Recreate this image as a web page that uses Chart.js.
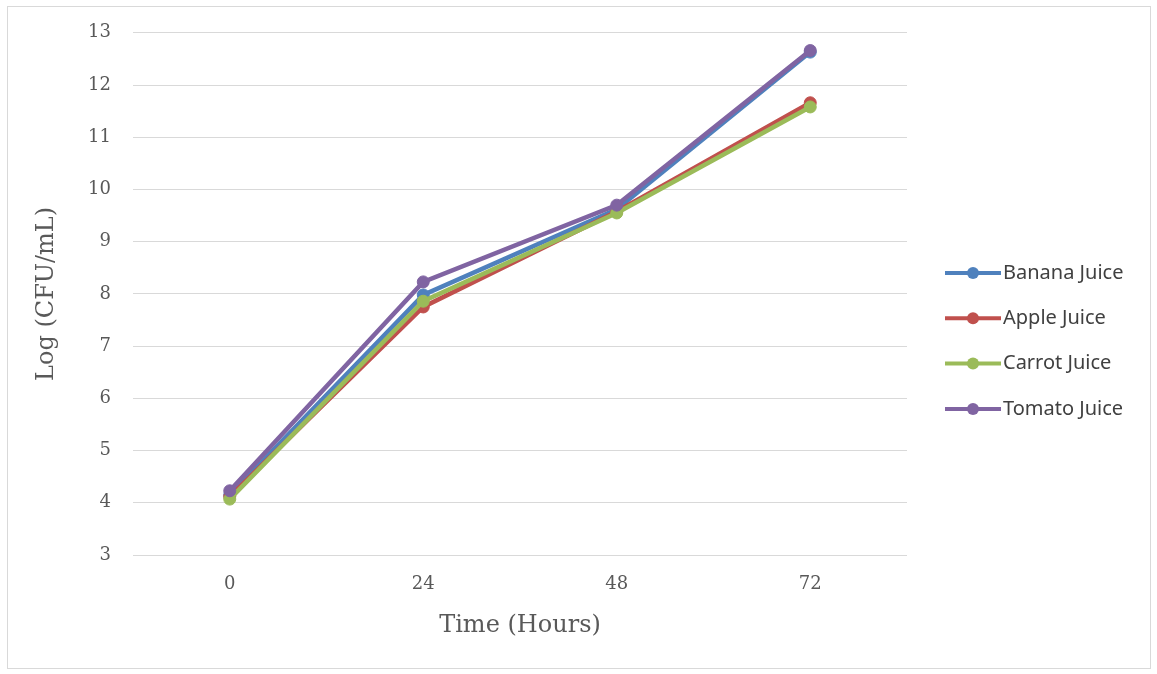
<!DOCTYPE html>
<html>
<head>
<meta charset="utf-8">
<script src="https://cdn.jsdelivr.net/npm/chart.js@4.4.1/dist/chart.umd.min.js"></script>
<style>
  html, body { margin: 0; padding: 0; background: #fff; }
  #frame { position: absolute; left: 7px; top: 6px; width: 1142px; height: 661px; border: 1px solid #d9d9d9; }
  #wrap { position: absolute; left: 0; top: 0; width: 1157px; height: 674px; }
</style>
</head>
<body>
<div id="frame"></div>
<div id="wrap"><canvas id="chart" width="1157" height="674"></canvas></div>
<script>
// Data
const hours = ['0', '24', '48', '72'];
const bananaJuice = [4.15, 7.98, 9.62, 12.63];
const appleJuice = [4.12, 7.75, 9.58, 11.66];
const carrotJuice = [4.07, 7.86, 9.55, 11.58];
const tomatoJuice = [4.23, 8.23, 9.70, 12.66];
const seriesNames = ['Banana Juice', 'Apple Juice', 'Carrot Juice', 'Tomato Juice'];
const seriesColors = ['#4F81BD', '#C0504D', '#9BBB59', '#8064A2'];
const yTicks = [3, 4, 5, 6, 7, 8, 9, 10, 11, 12, 13];

const serif = '"DejaVu Serif", "Liberation Serif", serif';
const sans = '"Noto Sans", "Open Sans", sans-serif';

function makeSet(i, data) {
    return {
        label: seriesNames[i],
        data: data,
        borderColor: seriesColors[i],
        backgroundColor: seriesColors[i],
        borderWidth: 4.5,
        pointRadius: 6,
        pointHoverRadius: 6,
        pointBorderWidth: 1,
        tension: 0,
        order: 4 - i // later series on top, like Excel
    };
}

// Excel style legend, line with a dot, on the right
const sideLegend = {
    id: 'sideLegend',
    afterDraw(chart) {
        const ctx = chart.ctx;
        const x0 = 945, y0 = 273, gap = 45.3;
        ctx.save();
        chart.data.datasets.forEach((ds, i) => {
            const y = y0 + i * gap;
            ctx.strokeStyle = ds.borderColor;
            ctx.lineWidth = 4;
            ctx.beginPath();
            ctx.moveTo(x0, y);
            ctx.lineTo(x0 + 56, y);
            ctx.stroke();
            ctx.fillStyle = ds.backgroundColor;
            ctx.beginPath();
            ctx.arc(x0 + 28, y, 6, 0, Math.PI * 2);
            ctx.fill();
            ctx.fillStyle = '#404040';
            ctx.font = '20px ' + sans;
            ctx.textBaseline = 'middle';
            ctx.textAlign = 'left';
            ctx.fillText(ds.label, x0 + 58, y);
        });
        ctx.restore();
    }
};

const ctx = document.getElementById('chart').getContext('2d');
new Chart(ctx, {
    type: 'line',
    data: {
        labels: hours,
        datasets: [
            makeSet(0, bananaJuice),
            makeSet(1, appleJuice),
            makeSet(2, carrotJuice),
            makeSet(3, tomatoJuice)
        ]
    },
    options: {
        responsive: false,
        animation: false,
        layout: { padding: { left: 28, right: 250, top: 24, bottom: 30 } },
        plugins: {
            legend: { display: false },
            tooltip: { enabled: false }
        },
        scales: {
            x: {
                offset: true,
                grid: { display: false },
                border: { display: false },
                ticks: { color: '#595959', font: { family: serif, size: 18 }, padding: 11 },
                title: {
                    display: true,
                    text: 'Time (Hours)',
                    color: '#595959',
                    font: { family: serif, size: 24 },
                    padding: { top: 14 }
                },
                afterFit(scale) { scale.height = 89; }
            },
            y: {
                min: 3,
                max: 13,
                afterBuildTicks(scale) { scale.ticks = yTicks.map(v => ({ value: v })); },
                grid: { color: '#d9d9d9', lineWidth: 1, drawTicks: false },
                border: { display: false },
                ticks: { color: '#595959', font: { family: serif, size: 18 }, padding: 22 },
                title: {
                    display: true,
                    text: 'Log (CFU/mL)',
                    color: '#595959',
                    font: { family: serif, size: 24 }
                },
                afterFit(scale) { scale.width = 105; }
            }
        }
    },
    plugins: [sideLegend]
});
</script>
</body>
</html>
